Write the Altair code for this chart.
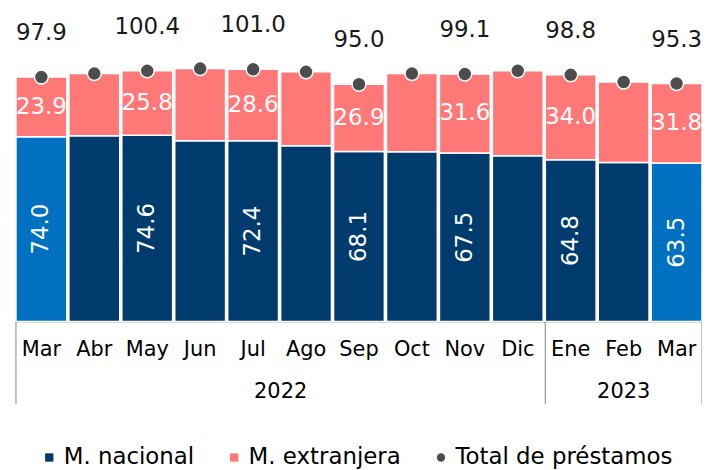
import altair as alt
import pandas as pd

months = ["Mar", "Abr", "May", "Jun", "Jul", "Ago", "Sep", "Oct", "Nov", "Dic", "Ene", "Feb", "Mar"]
years = ["2022"] * 10 + ["2023"] * 3
nacional = [74.0, 74.4, 74.6, 72.4, 72.4, 70.4, 68.1, 68.0, 67.5, 66.4, 64.8, 63.7, 63.5]
extranjera = [23.9, 24.9, 25.8, 28.9, 28.6, 29.6, 26.9, 31.3, 31.6, 34.0, 34.0, 32.2, 31.8]
total = [97.9, 99.3, 100.4, 101.3, 101.0, 100.0, 95.0, 99.3, 99.1, 100.4, 98.8, 95.9, 95.3]
show_label = [True, False, True, False, True, False, True, False, True, False, True, False, True]
highlight = [True] + [False] * 11 + [True]
series = ["M. nacional", "M. extranjera", "Total de préstamos"]
colors = ["#003B6E", "#FF7878", "#4D4D4D"]
shapes = ["square", "square", "circle"]

keys = [f"{m} {y}" for m, y in zip(months, years)]
df = pd.DataFrame({
    "key": keys, "mes": months, "anio": years,
    "nac": nacional, "ext": extranjera,
    "total": total, "show": show_label, "hl": highlight,
})
df["serie_total"] = "Total de préstamos"

FONT = "DejaVu Sans"

xscale = alt.Scale(domain=keys, paddingInner=0.04, paddingOuter=0)
yscale = alt.Scale(domain=[0, 125], nice=False, zero=True)
cscale = alt.Scale(domain=series, range=colors)
sscale = alt.Scale(domain=series, range=shapes)
leg = alt.Legend(title=None)

xaxis = alt.Axis(title=None, labelExpr="split(datum.label, ' ')[0]", labelAngle=0,
                 labelFontSize=21, labelFont=FONT, labelColor="#000000", labelPadding=17,
                 ticks=False, domainColor="#999999", domainWidth=1.2, labelFlush=False,
                 labelOverlap=False)

base = alt.Chart(df)

bars = base.transform_fold(
    ["nac", "ext"], as_=["comp", "valor"]
).transform_calculate(
    orden="datum.comp == 'nac' ? 0 : 1",
    serie="datum.comp == 'nac' ? 'M. nacional' : 'M. extranjera'",
).mark_bar(stroke="white", strokeWidth=1.5).encode(
    x=alt.X("key:N", scale=xscale, axis=xaxis),
    y=alt.Y("valor:Q", scale=yscale, axis=None, stack="zero"),
    order=alt.Order("orden:Q", sort="ascending"),
    color=alt.condition(
        "datum.hl && datum.comp == 'nac'",
        alt.value("#0070C0"),
        alt.Color("serie:N", scale=cscale, legend=leg),
    ),
)

points = base.mark_point(filled=True, size=195, opacity=1, stroke="white", strokeWidth=1.5).encode(
    x=alt.X("key:N", scale=xscale),
    y=alt.Y("total:Q", scale=yscale),
    color=alt.Color("serie_total:N", scale=cscale, legend=leg),
    shape=alt.Shape("serie_total:N", scale=sscale, legend=leg),
)

tot_text = base.transform_filter("datum.show").mark_text(
    dy=-44, fontSize=23, font=FONT, color="#1A1A1A", baseline="middle"
).encode(
    x=alt.X("key:N", scale=xscale),
    y=alt.Y("total:Q", scale=yscale),
    text=alt.Text("total:Q", format=".1f"),
)

nac_text = base.transform_filter("datum.show").transform_calculate(
    mid="datum.nac / 2"
).mark_text(angle=270, fontSize=23, font=FONT, color="white", baseline="middle", align="center").encode(
    x=alt.X("key:N", scale=xscale),
    y=alt.Y("mid:Q", scale=yscale),
    text=alt.Text("nac:Q", format=".1f"),
)

ext_text = base.transform_filter("datum.show").transform_calculate(
    mid="datum.nac + datum.ext / 2"
).mark_text(fontSize=23, font=FONT, color="white", baseline="middle", align="center").encode(
    x=alt.X("key:N", scale=xscale),
    y=alt.Y("mid:Q", scale=yscale),
    text=alt.Text("ext:Q", format=".1f"),
)

sep_start = alt.Chart(pd.DataFrame({"key": [keys[0], keys[10]]})).mark_rule(
    color="#999999", strokeWidth=1.2
).encode(
    x=alt.X("key:N", scale=xscale, bandPosition=0),
    y=alt.value(314), y2=alt.value(397),
)
sep_end = alt.Chart(pd.DataFrame({"key": [keys[12]]})).mark_rule(
    color="#999999", strokeWidth=1.2
).encode(
    x=alt.X("key:N", scale=xscale, bandPosition=1),
    y=alt.value(314), y2=alt.value(397),
)

year22 = alt.Chart(pd.DataFrame({"key": [keys[5]], "anio": ["2022"]})).mark_text(
    fontSize=21, font=FONT, color="#000000", baseline="middle"
).encode(
    x=alt.X("key:N", scale=xscale, bandPosition=0),
    y=alt.value(385),
    text="anio:N",
)
year23 = alt.Chart(pd.DataFrame({"key": [keys[11]], "anio": ["2023"]})).mark_text(
    fontSize=21, font=FONT, color="#000000", baseline="middle"
).encode(
    x=alt.X("key:N", scale=xscale, bandPosition=0.5),
    y=alt.value(385),
    text="anio:N",
)

chart = alt.layer(
    bars, points, tot_text, nac_text, ext_text, sep_start, sep_end, year22, year23
).resolve_scale(color="shared").properties(
    width=690, height=314,
    autosize=alt.AutoSizeParams(type="none"),
    padding={"left": 8, "top": 0, "right": 0, "bottom": 148},
).configure_view(stroke=None).configure_legend(
    orient="none", legendX=22, legendY=439, direction="horizontal",
    labelFontSize=23, labelFont=FONT, labelColor="#000000", labelLimit=0,
    symbolSize=70, labelOffset=3, columnPadding=28, symbolStrokeWidth=0, padding=0,
)

chart.save("out.html", embed_options={"renderer": "svg", "actions": False})
